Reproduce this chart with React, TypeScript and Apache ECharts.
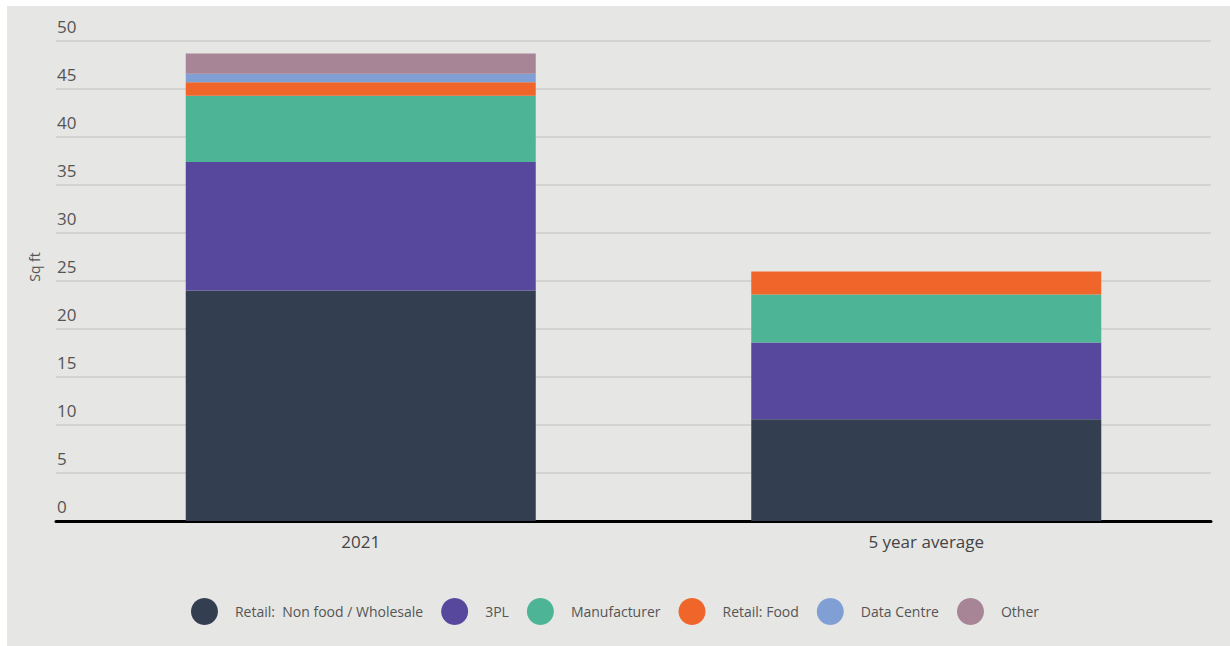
import React, { useEffect, useRef } from "react";
import * as echarts from "echarts";

const categories = ["2021", "5 year average"];
const seriesNames = [
  "Retail:  Non food / Wholesale",
  "3PL",
  "Manufacturer",
  "Retail: Food",
  "Data Centre",
  "Other",
];
const retailNonFood = [24.0, 10.6];
const threePL = [13.4, 8.0];
const manufacturer = [6.9, 5.0];
const retailFood = [1.4, 2.4];
const dataCentre = [0.9, 0];
const other = [2.1, 0];
const colors = ["#343e51", "#57489e", "#4db596", "#f06529", "#7f9fd5", "#a78496"];

export default function App() {
  const ref = useRef<HTMLDivElement>(null);
  useEffect(() => {
    if (!ref.current) return;
    const chart = echarts.init(ref.current, undefined, { renderer: "svg" });
    const values = [retailNonFood, threePL, manufacturer, retailFood, dataCentre, other];
    const option: any = {
      animation: false,
      backgroundColor: "transparent",
      textStyle: { fontFamily: "Open Sans" },
      grid: [
        { left: 56, right: 19, top: 41, height: 480, outerBoundsMode: "none" },
        { left: 78, right: 21, top: 41, height: 480, outerBoundsMode: "none" },
      ],
      xAxis: [
        {
          gridIndex: 0,
          type: "value",
          min: 0,
          max: 1,
          axisLine: { show: true, onZero: false, lineStyle: { color: "#000", width: 3 } },
          axisTick: { show: false },
          axisLabel: { show: false },
          splitLine: { show: false },
        },
        {
          gridIndex: 1,
          type: "category",
          data: categories,
          axisLine: { show: false },
          axisTick: { show: false },
          axisLabel: { fontSize: 17, color: "#444", margin: 12 },
        },
      ],
      yAxis: [
        {
          gridIndex: 0,
          type: "value",
          min: 0,
          max: 50,
          interval: 5,
          name: "Sq ft",
          nameLocation: "middle",
          nameGap: 15,
          nameRotate: 90,
          nameTextStyle: { fontSize: 14, color: "#555", padding: [0, 0, 0, 28] },
          axisLine: { show: false },
          axisTick: { show: false },
          axisLabel: {
            inside: true,
            align: "left",
            verticalAlign: "bottom",
            margin: 1,
            fontSize: 17,
            color: "#555",
            padding: [0, 0, 6, 0],
          },
          splitLine: { show: true, lineStyle: { color: "#d3d3d1", width: 2 } },
        },
        { gridIndex: 1, type: "value", min: 0, max: 50, interval: 5, show: false },
      ],
      legend: {
        top: 598,
        left: "center",
        icon: "circle",
        itemWidth: 27,
        itemHeight: 27,
        itemGap: 18,
        data: seriesNames,
        textStyle: { fontSize: 14, color: "#555", padding: [0, 0, 0, 12] },
        padding: [0, 5, 0, 5],
      },
      series: seriesNames.map((name, i) => ({
        name,
        type: "bar",
        stack: "total",
        xAxisIndex: 1,
        yAxisIndex: 1,
        barWidth: 350,
        data: values[i],
        itemStyle: { color: colors[i] },
      })),
    };
    chart.setOption(option);
    return () => chart.dispose();
  }, []);
  return (
    <div style={{ position: "absolute", left: 0, top: 0, width: 1230, height: 646, background: "#fff" }}>
      <div
        style={{ position: "absolute", left: 7, top: 6, width: 1223, height: 640, background: "#e6e6e4" }}
      />
      <div ref={ref} style={{ position: "absolute", left: 0, top: 0, width: 1230, height: 646 }} />
    </div>
  );
}
